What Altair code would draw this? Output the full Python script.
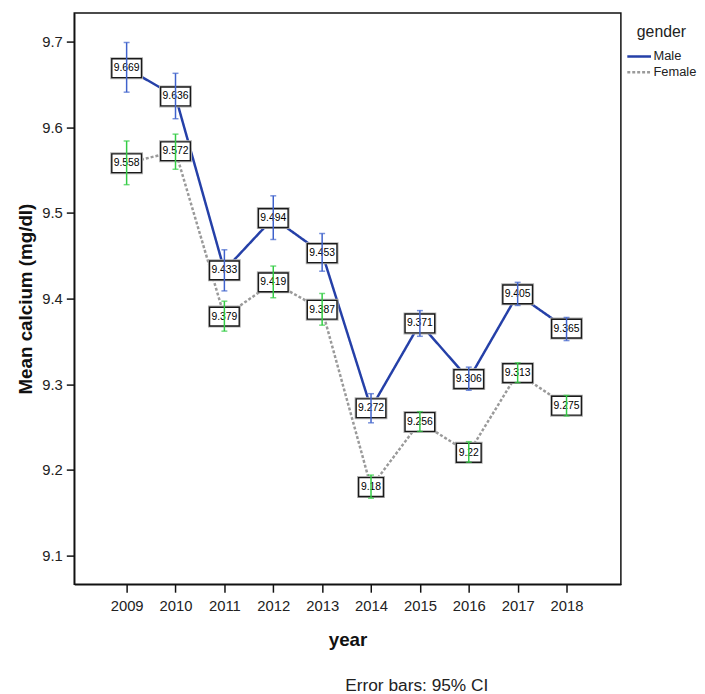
import altair as alt
import pandas as pd

years = list(range(2009, 2019))
male_mean = [9.669, 9.636, 9.433, 9.494, 9.453, 9.272, 9.371, 9.306, 9.405, 9.365]
male_lo = [9.641, 9.610, 9.409, 9.469, 9.432, 9.255, 9.356, 9.293, 9.392, 9.351]
male_hi = [9.699, 9.663, 9.457, 9.520, 9.476, 9.289, 9.386, 9.320, 9.419, 9.378]
female_mean = [9.558, 9.572, 9.379, 9.419, 9.387, 9.18, 9.256, 9.22, 9.313, 9.275]
female_lo = [9.533, 9.551, 9.362, 9.401, 9.369, 9.167, 9.245, 9.209, 9.302, 9.263]
female_hi = [9.584, 9.592, 9.397, 9.438, 9.406, 9.194, 9.268, 9.233, 9.325, 9.287]
genders = ["Male", "Female"]
y_ticks = [9.1, 9.2, 9.3, 9.4, 9.5, 9.6, 9.7]

rows = []
for g, m, lo, hi in [("Male", male_mean, male_lo, male_hi),
                     ("Female", female_mean, female_lo, female_hi)]:
    for yr, a, b, c in zip(years, m, lo, hi):
        lab = f"{a:g}"
        rows.append(dict(year=yr, gender=g, mean=a, lo=b, hi=c, label=lab,
                         w="S" if len(lab) <= 4 else "L"))
df = pd.DataFrame(rows)

FONT = "Liberation Sans"
YT = "Mean calcium (mg/dl)"
xscale = alt.Scale(domain=[2007.928, 2019.112], nice=False, zero=False)
yscale = alt.Scale(domain=[9.0665, 9.7335], nice=False, zero=False)
xaxis = alt.Axis(values=years, format="d", title="year")
yaxis = alt.Axis(values=y_ticks, format=".1f", title=YT)

X = alt.X("year:Q", scale=xscale, axis=xaxis)


def Y(field):
    return alt.Y(f"{field}:Q", scale=yscale, axis=yaxis, title=YT)


base = alt.Chart(df)

legend = alt.Legend(
    title="gender", orient="none", legendX=558, legendY=11,
    symbolType="stroke", symbolSize=576, symbolStrokeWidth=2.5,
    clipHeight=16, titleAnchor="middle", titleFontSize=16,
    titleFontWeight="normal", titleColor="#222", labelFontSize=13,
    labelColor="#222", labelOffset=1, padding=0, titlePadding=9,
    rowPadding=0, labelLimit=200,
)

lines = base.mark_line(strokeWidth=2.5).encode(
    x=X, y=Y("mean"),
    color=alt.Color("gender:N", scale=alt.Scale(domain=genders, range=["#2540a8", "#9a9a9a"]),
                    legend=legend),
    strokeDash=alt.StrokeDash("gender:N", scale=alt.Scale(domain=genders, range=[[1, 0], [3, 2]]),
                              legend=legend),
)

pathL = "M-1.5,-0.95L1.5,-0.95L1.5,0.95L-1.5,0.95Z"
pathS = "M-1.25,-0.95L1.25,-0.95L1.25,0.95L-1.25,0.95Z"
shape = alt.Shape("w:N", scale=alt.Scale(domain=["L", "S"], range=[pathL, pathS]), legend=None)

shadow = base.mark_point(filled=False, stroke="#b0b0b0", strokeWidth=3.2, opacity=1).encode(
    x=X, y=Y("mean"), shape=shape, size=alt.value(400))
boxes = base.mark_point(filled=True, fill="white", stroke="#1a1a1a", strokeWidth=1.4,
                        opacity=1, fillOpacity=1).encode(
    x=X, y=Y("mean"), shape=shape, size=alt.value(400))
labels = base.mark_text(fontSize=10.5, font=FONT, color="#000").encode(
    x=X, y=Y("mean"), text="label:N")

err_layers = []
for g, col in [("Male", "#3f62cc"), ("Female", "#33cc44")]:
    sub = base.transform_filter(alt.datum.gender == g)
    err_layers.append(sub.mark_rule(color=col, strokeWidth=1.5).encode(
        x=X, y=Y("lo"), y2="hi:Q"))
    err_layers.append(sub.mark_tick(color=col, orient="horizontal", size=6, thickness=1.5).encode(
        x=X, y=Y("lo")))
    err_layers.append(sub.mark_tick(color=col, orient="horizontal", size=6, thickness=1.5).encode(
        x=X, y=Y("hi")))

chart = alt.layer(lines, shadow, boxes, labels, *err_layers).properties(
    width=553, height=578,
    autosize=alt.AutoSizeParams(type="none"),
    padding={"left": 67, "top": 1, "right": 77, "bottom": 107},
    title=alt.TitleParams("Error bars: 95% CI", orient="bottom", anchor="middle",
                          frame="group", dx=70, offset=28, fontSize=17.5,
                          fontWeight="normal", color="#222", font=FONT),
).configure(font=FONT).configure_view(
    stroke="#111", strokeWidth=1.5
).configure_axis(
    grid=False, domainColor="#111", domainWidth=1.5, tickColor="#111", tickWidth=1.5,
    tickSize=8, labelFontSize=15, labelColor="#222", labelPadding=4,
    titleFontSize=19, titleFontWeight="bold", titleColor="#111", labelFont=FONT, titleFont=FONT,
).configure_axisY(titlePadding=6).configure_axisX(titlePadding=17, labelPadding=7)

chart.save("out.html", embed_options={"renderer": "svg", "actions": False})
